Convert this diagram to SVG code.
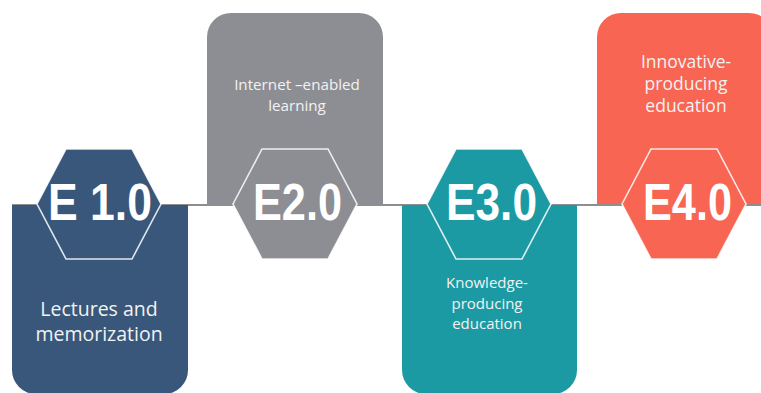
<svg xmlns="http://www.w3.org/2000/svg" width="761" height="393" viewBox="0 0 761 393">
  <style>
    .hex { stroke: #ffffff; stroke-opacity: 0.85; stroke-width: 1.6; stroke-linejoin: miter; }
    .tag { font-family: "Liberation Sans", Arial, sans-serif; font-weight: bold; font-size: 51px; fill: #ffffff; text-anchor: middle; }
    .cap { font-family: "Open Sans", "Liberation Sans", sans-serif; fill: #f2f2f2; text-anchor: middle; }
    .timeline { stroke: #8f8f8f; stroke-width: 2; fill: none; }
  </style>

  <!-- horizontal timeline running through all stages -->
  <g id="connectors">
    <line class="timeline" x1="12" y1="205" x2="761" y2="205"/>
  </g>

  <!-- Stage 1 -->
  <g id="e1">
    <path d="M12,205 H188 V370 A24,24 0 0 1 164,394 H36 A24,24 0 0 1 12,370 Z" fill="#38577a"/>
    <polygon class="hex" fill="#38577a" points="37,204 66,149 132,149 161,204 132,259 66,259"/>
    <text class="tag" x="100" y="220" textLength="104" lengthAdjust="spacingAndGlyphs">E 1.0</text>
    <text class="cap" font-size="19.5" x="99" y="316">Lectures and</text>
    <text class="cap" font-size="19.5" x="99" y="341">memorization</text>
  </g>

  <!-- Stage 2 -->
  <g id="e2">
    <path d="M207,204 V37 A24,24 0 0 1 231,13 H359 A24,24 0 0 1 383,37 V204 Z" fill="#8d8e94"/>
    <polygon class="hex" fill="#8d8e94" points="233,204 262,149 328,149 357,204 328,259 262,259"/>
    <text class="tag" x="297.5" y="220" textLength="89" lengthAdjust="spacingAndGlyphs">E2.0</text>
    <text class="cap" font-size="15.2" x="297" y="90" fill="#ececec">Internet –enabled</text>
    <text class="cap" font-size="15.2" x="297" y="111" fill="#ececec">learning</text>
  </g>

  <!-- Stage 3 -->
  <g id="e3">
    <path d="M402,205 H577 V370 A24,24 0 0 1 553,394 H426 A24,24 0 0 1 402,370 Z" fill="#1c9aa3"/>
    <polygon class="hex" fill="#1c9aa3" points="427,204 456,149 522,149 551,204 522,259 456,259"/>
    <text class="tag" x="491.5" y="220" textLength="91" lengthAdjust="spacingAndGlyphs">E3.0</text>
    <text class="cap" font-size="15" x="487" y="288">Knowledge-</text>
    <text class="cap" font-size="15" x="487" y="308.5">producing</text>
    <text class="cap" font-size="15" x="487" y="329">education</text>
  </g>

  <!-- Stage 4 -->
  <g id="e4">
    <path d="M597,204 V37 A24,24 0 0 1 621,13 H749 A24,24 0 0 1 773,37 V204 Z" fill="#f86553"/>
    <polygon class="hex" fill="#f86553" points="622,204 651,149 717,149 746,204 717,259 651,259"/>
    <text class="tag" x="687.5" y="220" textLength="89" lengthAdjust="spacingAndGlyphs">E4.0</text>
    <text class="cap" font-size="17.5" x="686" y="68">Innovative-</text>
    <text class="cap" font-size="17.5" x="686" y="90">producing</text>
    <text class="cap" font-size="17.5" x="686" y="112">education</text>
  </g>
</svg>
